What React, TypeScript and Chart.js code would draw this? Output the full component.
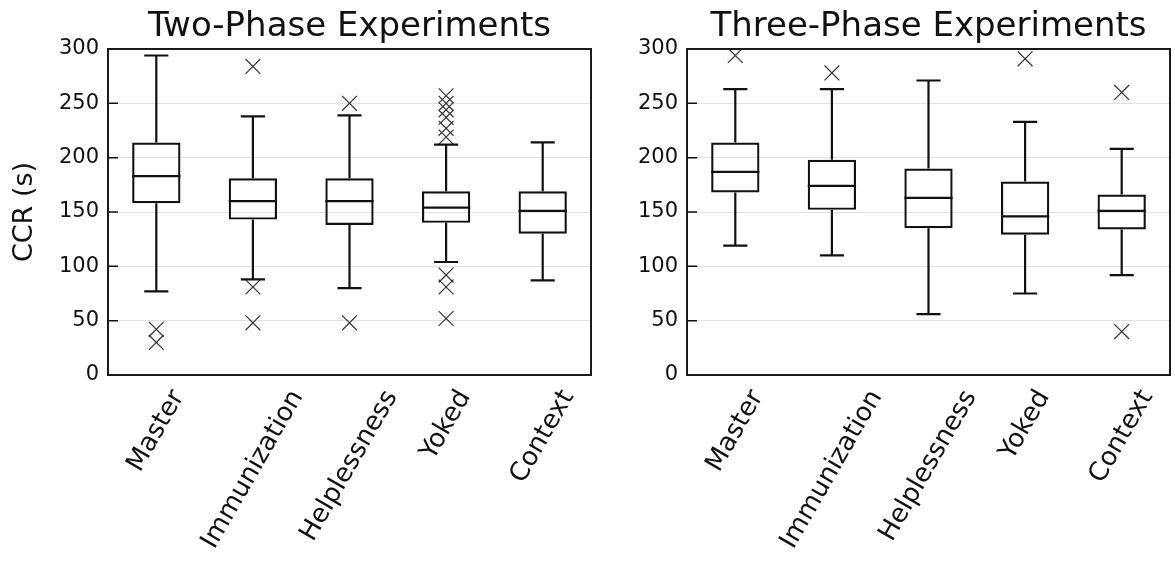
import React, { useEffect, useRef } from 'react';
import { Chart, registerables } from 'chart.js';

Chart.register(...registerables);

const categories = ['Master', 'Immunization', 'Helplessness', 'Yoked', 'Context'];
const yTickValues = [0, 50, 100, 150, 200, 250, 300];

// Two-phase experiments
const twoLow = [77, 88, 80, 104, 87];
const twoQ1 = [158, 143, 138, 140, 130];
const twoMedian = [183, 160, 160, 154, 151];
const twoQ3 = [214, 181, 181, 169, 169];
const twoHigh = [294, 238, 239, 212, 214];
const twoOutliers = [
  [42, 30],
  [284, 81, 48],
  [250, 48],
  [257, 250, 244, 237, 227, 219, 92, 81, 52],
  [],
];

// Three-phase experiments
const threeLow = [119, 110, 56, 75, 92];
const threeQ1 = [168, 152, 135, 129, 134];
const threeMedian = [187, 174, 163, 146, 151];
const threeQ3 = [214, 198, 190, 178, 166];
const threeHigh = [263, 263, 271, 233, 208];
const threeOutliers = [[294], [278], [], [291], [260, 40]];

const FONT = '"DejaVu Sans", "Liberation Sans", sans-serif';
const INK = '#111111';

type Stats = {
  low: number[];
  q1: number[];
  median: number[];
  q3: number[];
  high: number[];
  outliers: number[][];
};

function makeBoxPlugin(s: Stats) {
  return {
    id: 'boxWhiskers',
    afterDatasetsDraw(chart: any) {
      const { ctx, chartArea } = chart;
      const xs = chart.scales.x;
      const ys = chart.scales.y;
      const band = xs.getPixelForValue(1) - xs.getPixelForValue(0);
      const boxW = band * 0.5;
      const capW = boxW * 0.5;
      ctx.save();
      ctx.strokeStyle = INK;
      ctx.lineWidth = 2.2;
      ctx.lineCap = 'butt';
      categories.forEach((_, i) => {
        const x = xs.getPixelForValue(i);
        const yLow = ys.getPixelForValue(s.low[i]);
        const yQ1 = ys.getPixelForValue(s.q1[i]);
        const yMed = ys.getPixelForValue(s.median[i]);
        const yQ3 = ys.getPixelForValue(s.q3[i]);
        const yHigh = ys.getPixelForValue(s.high[i]);
        ctx.beginPath();
        // whiskers
        ctx.moveTo(x, yQ3);
        ctx.lineTo(x, yHigh);
        ctx.moveTo(x, yQ1);
        ctx.lineTo(x, yLow);
        // caps
        ctx.moveTo(x - capW / 2, yHigh);
        ctx.lineTo(x + capW / 2, yHigh);
        ctx.moveTo(x - capW / 2, yLow);
        ctx.lineTo(x + capW / 2, yLow);
        // median
        ctx.moveTo(x - boxW / 2, yMed);
        ctx.lineTo(x + boxW / 2, yMed);
        ctx.stroke();
      });
      // inward ticks on the left spine
      ctx.lineWidth = 1.5;
      ctx.beginPath();
      yTickValues.forEach((v) => {
        const y = ys.getPixelForValue(v);
        ctx.moveTo(chartArea.left, y);
        ctx.lineTo(chartArea.left + 10, y);
      });
      ctx.stroke();
      // frame
      ctx.lineWidth = 2;
      ctx.strokeStyle = '#1a1a1a';
      ctx.strokeRect(
        chartArea.left,
        chartArea.top,
        chartArea.right - chartArea.left,
        chartArea.bottom - chartArea.top
      );
      ctx.restore();
    },
    afterDraw(chart: any) {
      const { ctx, chartArea } = chart;
      const xs = chart.scales.x;
      const size = 26;
      const a = Math.PI / 3;
      ctx.save();
      ctx.font = `${size}px ${FONT}`;
      ctx.fillStyle = INK;
      ctx.textAlign = 'center';
      ctx.textBaseline = 'middle';
      (chart.data.labels as string[]).forEach((lab, i) => {
        const x = xs.getPixelForValue(i);
        const w = ctx.measureText(lab).width;
        const h = size * 1.17;
        const bh = w * Math.sin(a) + h * Math.cos(a);
        const cy = chartArea.bottom + 10 + bh / 2;
        ctx.save();
        ctx.translate(x, cy);
        ctx.rotate(-a);
        ctx.fillText(lab, 0, 0);
        ctx.restore();
      });
      ctx.restore();
    },
  };
}

type PanelProps = {
  stats: Stats;
  title: string;
  yLabel?: string;
  left: number;
  axisWidth: number;
  targetRight: number;
};

// The outlier markers make Chart.js keep ~12px of room on the right, so the
// canvas is made a little wider and given exactly that much right padding.
const RIGHT_PAD = 13;

function BoxPanel({ stats, title, yLabel, left, axisWidth, targetRight }: PanelProps) {
  const ref = useRef<HTMLCanvasElement | null>(null);
  const width = targetRight + RIGHT_PAD;

  useEffect(() => {
    const canvas = ref.current;
    if (!canvas) return;
    const outlierPoints: { x: string; y: number }[] = [];
    stats.outliers.forEach((list, i) => {
      list.forEach((v) => outlierPoints.push({ x: categories[i], y: v }));
    });

    const chart = new Chart(canvas, {
      type: 'bar',
      data: {
        labels: categories,
        datasets: [
          {
            type: 'bar',
            data: stats.q1.map((v, i) => [v, stats.q3[i]]) as any,
            backgroundColor: 'rgba(255,255,255,0)',
            borderColor: INK,
            borderWidth: 2.2,
            borderSkipped: false,
            barPercentage: 0.5,
            categoryPercentage: 1,
          } as any,
          {
            type: 'line',
            data: outlierPoints as any,
            showLine: false,
            pointStyle: 'crossRot',
            pointRadius: 10.5,
            pointBorderWidth: 1.2,
            pointBorderColor: '#333333',
            pointBackgroundColor: 'rgba(0,0,0,0)',
          } as any,
        ],
      },
      options: {
        responsive: false,
        animation: false,
        events: [],
        layout: { padding: { left: 0, right: RIGHT_PAD, top: 0, bottom: 0 } },
        plugins: {
          legend: { display: false },
          tooltip: { enabled: false },
          title: {
            display: true,
            text: title,
            fullSize: false,
            color: INK,
            font: { family: FONT, size: 34, weight: 'normal', lineHeight: 1.2 },
            padding: { top: 6.5, bottom: 1.7 },
          },
        },
        scales: {
          x: {
            type: 'category',
            offset: true,
            grid: { display: false, drawTicks: false },
            border: { display: false },
            ticks: { display: false },
            afterFit: (scale: any) => {
              scale.height = 186;
            },
          },
          y: {
            min: 0,
            max: 300,
            grid: { color: '#e0e0e0', lineWidth: 1, drawTicks: false },
            border: { display: false },
            ticks: {
              stepSize: 50,
              padding: 9,
              color: INK,
              font: { family: FONT, size: 21 },
            },
            title: {
              display: !!yLabel,
              text: yLabel || '',
              color: INK,
              font: { family: FONT, size: 27 },
              padding: { top: 9, bottom: 0 },
            },
            afterFit: (scale: any) => {
              scale.width = axisWidth;
            },
          },
        },
      } as any,
      plugins: [makeBoxPlugin(stats)],
    });
    return () => chart.destroy();
  }, []);

  return (
    <canvas
      ref={ref}
      width={width}
      height={561}
      style={{ position: 'absolute', left, top: 0, width, height: 561 }}
    />
  );
}

export default function App() {
  const two: Stats = {
    low: twoLow,
    q1: twoQ1,
    median: twoMedian,
    q3: twoQ3,
    high: twoHigh,
    outliers: twoOutliers,
  };
  const three: Stats = {
    low: threeLow,
    q1: threeQ1,
    median: threeMedian,
    q3: threeQ3,
    high: threeHigh,
    outliers: threeOutliers,
  };
  return (
    <div
      style={{
        position: 'absolute',
        left: 0,
        top: 0,
        width: 1175,
        height: 561,
        background: '#ffffff',
        overflow: 'hidden',
      }}
    >
      <BoxPanel
        stats={two}
        title="Two-Phase Experiments"
        yLabel="CCR (s)"
        left={0}
        axisWidth={108}
        targetRight={591}
      />
      <BoxPanel
        stats={three}
        title="Three-Phase Experiments"
        left={600}
        axisWidth={87}
        targetRight={570}
      />
    </div>
  );
}
